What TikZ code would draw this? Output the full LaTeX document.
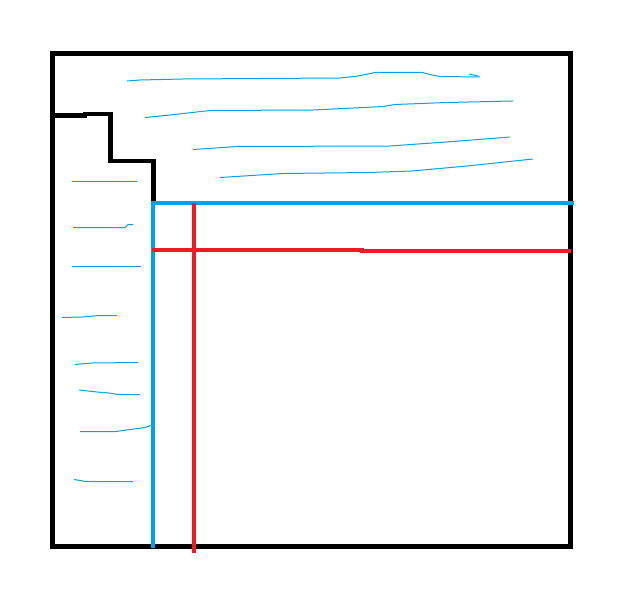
\documentclass[tikz,border=0pt]{standalone}
\usepackage{tikz}
\definecolor{paintblue}{HTML}{00A2E8}
\definecolor{paintred}{HTML}{ED1C24}

\begin{document}
\begin{tikzpicture}[x=1pt,y=-1pt,
  wall/.style={line width=5pt},
  wave/.style={paintblue,line width=1pt},
  blueline/.style={paintblue,line width=4pt},
  redline/.style={paintred,line width=4pt}]
\useasboundingbox (0,0) rectangle (621,599);
% outer frame and staircase
\draw[wall] (52,53.5) rectangle (570,546);
\draw[line width=4.5pt] (52,115.5) -- (85,115.5) -- (85,114) -- (110.5,114) -- (110.5,161) -- (153.5,161) -- (153.5,202);
% water strokes, top
\draw[wave] (127,81) -- (140,80) -- (183,79) -- (340,78) -- (358,76) -- (375,72.5) -- (422,72.5) -- (432,75) -- (440,76.5) -- (480,77);
\draw[wave] (469,74) -- (478,76);
\draw[wave] (145,117.5) -- (170,115) -- (210,110.5) -- (313,110) -- (383,106.5) -- (395,104.5) -- (447,102.5) -- (513,101);
\draw[wave] (193,149.5) -- (237,146.5) -- (390,146) -- (453,141.5) -- (510,137);
\draw[wave] (220,177.5) -- (283,173.5) -- (368,172.5) -- (412,171) -- (467,166) -- (533,159);
% water strokes, left
\draw[wave] (72,181.5) -- (137,181.5);
\draw[wave] (73,227.5) -- (125,227.5) -- (128,224.5) -- (133,224.5);
\draw[wave] (72,266.5) -- (141,266.5);
\draw[wave] (62,317.5) -- (82,317) -- (99,315.5) -- (117,315.5);
\draw[wave] (75,364.5) -- (92,363) -- (138,362.5);
\draw[wave] (79,390) -- (97,392) -- (109,393) -- (118,394.5) -- (140,394.5);
\draw[wave] (80,431.5) -- (116,431.5) -- (130,429.5) -- (145,427.5) -- (151,425.5);
\draw[wave] (74,479.5) -- (86,481.5) -- (133,481.5);
% blue and red lines
\draw[blueline] (153,548) -- (153,203) -- (360,203) -- (360,202.5) -- (574,202.5);
\draw[redline] (152,249.5) -- (362,249.5) -- (362,250.5) -- (571,250.5);
\draw[redline] (194,203) -- (194,553);
\end{tikzpicture}
\end{document}
